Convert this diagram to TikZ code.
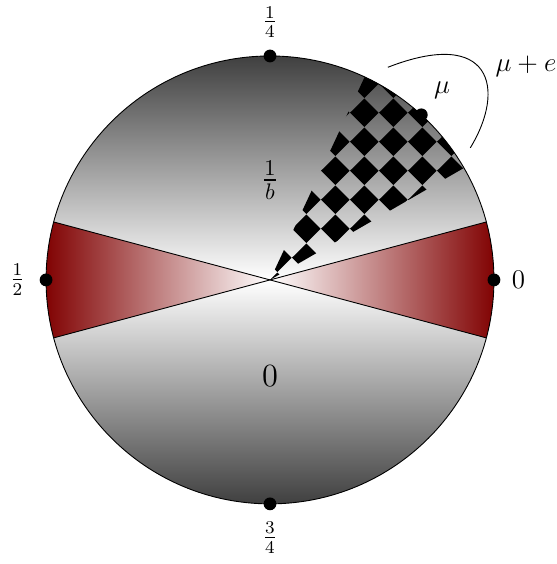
\documentclass[tikz,border=0pt]{standalone}
\usepackage{amsmath}
\usepackage{tikz}
\usetikzlibrary{positioning, patterns}

% diagonal checkerboard (diamonds)
\pgfdeclarepatternformonly{diamondchecker}{\pgfpointorigin}{\pgfpoint{13pt}{13pt}}{\pgfpoint{13pt}{13pt}}{%
  \pgfpathmoveto{\pgfpoint{6.5pt}{0pt}}%
  \pgfpathlineto{\pgfpoint{13pt}{6.5pt}}%
  \pgfpathlineto{\pgfpoint{6.5pt}{13pt}}%
  \pgfpathlineto{\pgfpoint{0pt}{6.5pt}}%
  \pgfpathclose%
  \pgfusepath{fill}%
}

\begin{document}
\begin{tikzpicture}[
    dot/.style={circle, fill=black, inner sep=0pt, minimum size=0.2cm},
    lbl/.style={font=\large},
    wedgeline/.style={draw=black, thin},
    redleft/.style={left color=red!50!black, right color=white},
    redright/.style={left color=white, right color=red!50!black}
]
    \useasboundingbox (-4.22,-4.44) rectangle (4.48,4.375);

    % Gray disc
    \shade[top color=black!75, bottom color=black!75, middle color=white] (0,0) circle (3.5);

    % Red sectors
    \shade[redright] (0,0) -- (-15:3.5) arc (-15:15:3.5) -- cycle;
    \shade[redleft] (0,0) -- (165:3.5) arc (165:195:3.5) -- cycle;

    % Checkered sector
    \fill[pattern=diamondchecker] (0,0) -- (30:3.5) arc (30:65:3.5) -- cycle;

    % Outline and sector borders
    \draw (0,0) circle (3.5);
    \draw[wedgeline] (165:3.5) -- (-15:3.5);
    \draw[wedgeline] (195:3.5) -- (15:3.5);

    % Points on the circle
    \node[dot] (D0) at (0:3.5) {};
    \node[dot] (D1) at (90:3.5) {};
    \node[dot] (D2) at (180:3.5) {};
    \node[dot] (D3) at (270:3.5) {};
    \node[dot] (MU) at (47.5:3.5) {};

    \node[lbl, right=0.5mm of D0] (L0) {$0$};
    \node[lbl, above=0.5mm of D1] (L1) {$\frac{1}{4}$};
    \node[lbl, left=1mm of D2] (L2) {$\frac{1}{2}$};
    \node[lbl, below=0.5mm of D3] (L3) {$\frac{3}{4}$};
    \node[lbl, above right=0.5mm and 0mm of MU] (LMU) {$\mu$};

    % Inner labels
    \node[font=\Large] (TOP) at (0,1.56) {$\frac{1}{b}$};
    \node[font=\Large] (BOT) at (0,-1.5) {$0$};

    % Arc for mu + e
    \coordinate (EA) at (61:3.8);
    \coordinate (EB) at (33.4:3.75);
    \draw (EA) .. controls (3.45,3.95) and (3.7,3.0) .. (EB);
    \node[lbl] (LE) at (4.0,3.34) {$\mu+e$};
\end{tikzpicture}
\end{document}
